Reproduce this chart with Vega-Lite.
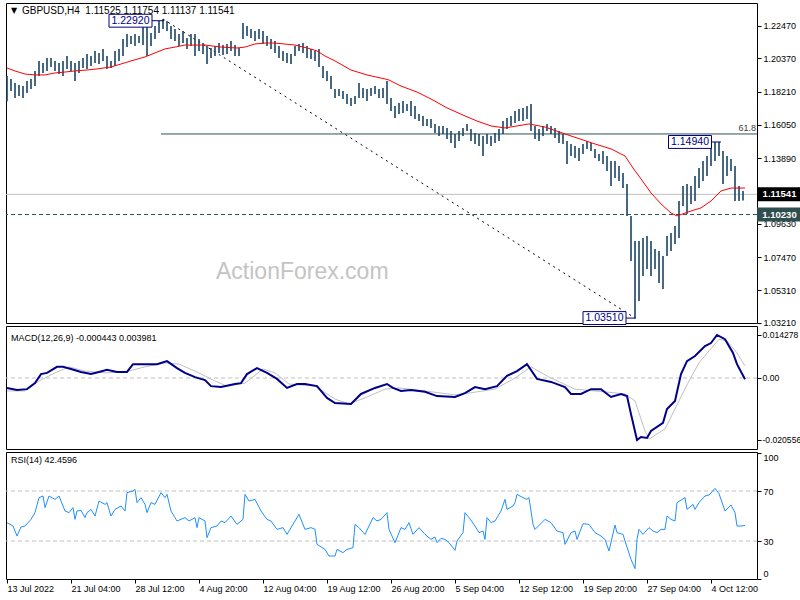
{
"$schema": "https://vega.github.io/schema/vega-lite/v6.json",
"padding": {"left": 2, "top": 2, "right": 0, "bottom": 0},
"background": "white",
"bounds": "flush",
"spacing": 3,
"config": {
  "view": {"stroke": "black", "strokeWidth": 1},
  "axis": {"labelFont": "Liberation Sans", "labelFontSize": 9, "labelColor": "black", "tickColor": "black", "domain": false, "grid": false, "tickSize": 4, "labelPadding": 2, "labelOverlap": false},
  "text": {"font": "Liberation Sans"}
},
"datasets": {
"bars": [
{"i":0,"h":1.1922,"l":1.1759},{"i":2,"h":1.1902,"l":1.1825},{"i":4,"h":1.1877,"l":1.1780},{"i":6,"h":1.1864,"l":1.1792},{"i":8,"h":1.1857,"l":1.1780},{"i":10,"h":1.1890,"l":1.1812},{"i":12,"h":1.1903,"l":1.1838},{"i":14,"h":1.1955,"l":1.1857},{"i":16,"h":1.2020,"l":1.1922},{"i":18,"h":1.2007,"l":1.1942},{"i":20,"h":1.2039,"l":1.1955},{"i":22,"h":1.2039,"l":1.1981},{"i":24,"h":1.2020,"l":1.1955},{"i":26,"h":1.2007,"l":1.1935},{"i":28,"h":1.2020,"l":1.1922},{"i":30,"h":1.2052,"l":1.1968},{"i":32,"h":1.2020,"l":1.1955},{"i":34,"h":1.2007,"l":1.1890},{"i":36,"h":1.2020,"l":1.1942},{"i":38,"h":1.2039,"l":1.1974},{"i":40,"h":1.2065,"l":1.1968},{"i":42,"h":1.2052,"l":1.1987},{"i":44,"h":1.2085,"l":1.2007},{"i":46,"h":1.2072,"l":1.2000},{"i":48,"h":1.2098,"l":1.2020},{"i":50,"h":1.2052,"l":1.1968},{"i":52,"h":1.2020,"l":1.1974},{"i":54,"h":1.2085,"l":1.1987},{"i":56,"h":1.2098,"l":1.2020},{"i":58,"h":1.2162,"l":1.2052},{"i":60,"h":1.2195,"l":1.2110},{"i":62,"h":1.2182,"l":1.2130},{"i":64,"h":1.2195,"l":1.2117},{"i":66,"h":1.2182,"l":1.2136},{"i":68,"h":1.2247,"l":1.2123},{"i":70,"h":1.2247,"l":1.2052},{"i":72,"h":1.2201,"l":1.2117},{"i":74,"h":1.2247,"l":1.2162},{"i":76,"h":1.2279,"l":1.2201},{"i":78,"h":1.2292,"l":1.2227},{"i":80,"h":1.2279,"l":1.2214},{"i":82,"h":1.2247,"l":1.2162},{"i":84,"h":1.2227,"l":1.2149},{"i":86,"h":1.2195,"l":1.2117},{"i":88,"h":1.2214,"l":1.2136},{"i":90,"h":1.2169,"l":1.2098},{"i":92,"h":1.2195,"l":1.2117},{"i":94,"h":1.2195,"l":1.2052},{"i":96,"h":1.2162,"l":1.2085},{"i":98,"h":1.2136,"l":1.2065},{"i":100,"h":1.2117,"l":1.2000},{"i":102,"h":1.2104,"l":1.2039},{"i":104,"h":1.2117,"l":1.2052},{"i":106,"h":1.2136,"l":1.2072},{"i":108,"h":1.2123,"l":1.2059},{"i":110,"h":1.2130,"l":1.2065},{"i":112,"h":1.2149,"l":1.2085},{"i":114,"h":1.2123,"l":1.2052},{"i":116,"h":1.2104,"l":1.2052},{"i":118,"h":1.2266,"l":1.2162},{"i":120,"h":1.2247,"l":1.2182},{"i":122,"h":1.2227,"l":1.2169},{"i":124,"h":1.2214,"l":1.2149},{"i":126,"h":1.2227,"l":1.2162},{"i":128,"h":1.2214,"l":1.2130},{"i":130,"h":1.2182,"l":1.2117},{"i":132,"h":1.2162,"l":1.2098},{"i":134,"h":1.2149,"l":1.2072},{"i":136,"h":1.2117,"l":1.2039},{"i":138,"h":1.2085,"l":1.2020},{"i":140,"h":1.2072,"l":1.2007},{"i":142,"h":1.2065,"l":1.2000},{"i":144,"h":1.2117,"l":1.2052},{"i":146,"h":1.2130,"l":1.2085},{"i":148,"h":1.2136,"l":1.2072},{"i":150,"h":1.2117,"l":1.2039},{"i":152,"h":1.2098,"l":1.2033},{"i":154,"h":1.2085,"l":1.2020},{"i":156,"h":1.2098,"l":1.1981},{"i":158,"h":1.1987,"l":1.1909},{"i":160,"h":1.1955,"l":1.1890},{"i":162,"h":1.1922,"l":1.1838},{"i":164,"h":1.1838,"l":1.1780},{"i":166,"h":1.1838,"l":1.1792},{"i":168,"h":1.1825,"l":1.1773},{"i":170,"h":1.1805,"l":1.1741},{"i":172,"h":1.1779,"l":1.1728},{"i":174,"h":1.1792,"l":1.1741},{"i":176,"h":1.1877,"l":1.1780},{"i":178,"h":1.1844,"l":1.1780},{"i":180,"h":1.1838,"l":1.1760},{"i":182,"h":1.1844,"l":1.1792},{"i":184,"h":1.1857,"l":1.1805},{"i":186,"h":1.1838,"l":1.1780},{"i":188,"h":1.1844,"l":1.1780},{"i":190,"h":1.1890,"l":1.1741},{"i":192,"h":1.1779,"l":1.1695},{"i":194,"h":1.1728,"l":1.1650},{"i":196,"h":1.1747,"l":1.1676},{"i":198,"h":1.1760,"l":1.1682},{"i":200,"h":1.1741,"l":1.1695},{"i":202,"h":1.1760,"l":1.1663},{"i":204,"h":1.1728,"l":1.1643},{"i":206,"h":1.1676,"l":1.1630},{"i":208,"h":1.1663,"l":1.1598},{"i":210,"h":1.1643,"l":1.1598},{"i":212,"h":1.1643,"l":1.1585},{"i":214,"h":1.1611,"l":1.1552},{"i":216,"h":1.1598,"l":1.1533},{"i":218,"h":1.1598,"l":1.1546},{"i":220,"h":1.1585,"l":1.1513},{"i":222,"h":1.1565,"l":1.1487},{"i":224,"h":1.1546,"l":1.1455},{"i":226,"h":1.1565,"l":1.1500},{"i":228,"h":1.1585,"l":1.1533},{"i":230,"h":1.1611,"l":1.1565},{"i":232,"h":1.1578,"l":1.1500},{"i":234,"h":1.1552,"l":1.1481},{"i":236,"h":1.1546,"l":1.1468},{"i":238,"h":1.1533,"l":1.1403},{"i":240,"h":1.1546,"l":1.1481},{"i":242,"h":1.1533,"l":1.1468},{"i":244,"h":1.1552,"l":1.1487},{"i":246,"h":1.1578,"l":1.1500},{"i":248,"h":1.1630,"l":1.1546},{"i":250,"h":1.1650,"l":1.1578},{"i":252,"h":1.1663,"l":1.1598},{"i":254,"h":1.1695,"l":1.1617},{"i":256,"h":1.1708,"l":1.1630},{"i":258,"h":1.1715,"l":1.1630},{"i":260,"h":1.1728,"l":1.1643},{"i":262,"h":1.1741,"l":1.1565},{"i":264,"h":1.1598,"l":1.1513},{"i":266,"h":1.1578,"l":1.1500},{"i":268,"h":1.1598,"l":1.1533},{"i":270,"h":1.1611,"l":1.1565},{"i":272,"h":1.1598,"l":1.1546},{"i":274,"h":1.1585,"l":1.1520},{"i":276,"h":1.1565,"l":1.1487},{"i":278,"h":1.1546,"l":1.1481},{"i":280,"h":1.1500,"l":1.1351},{"i":282,"h":1.1481,"l":1.1403},{"i":284,"h":1.1468,"l":1.1390},{"i":286,"h":1.1455,"l":1.1371},{"i":288,"h":1.1481,"l":1.1416},{"i":290,"h":1.1500,"l":1.1449},{"i":292,"h":1.1487,"l":1.1436},{"i":294,"h":1.1449,"l":1.1390},{"i":296,"h":1.1416,"l":1.1371},{"i":298,"h":1.1436,"l":1.1351},{"i":300,"h":1.1403,"l":1.1306},{"i":302,"h":1.1371,"l":1.1208},{"i":304,"h":1.1371,"l":1.1260},{"i":306,"h":1.1338,"l":1.1241},{"i":308,"h":1.1293,"l":1.1195},{"i":310,"h":1.1221,"l":1.1014},{"i":312,"h":1.1014,"l":1.0722},{"i":314,"h":1.0851,"l":1.0352},{"i":316,"h":1.0851,"l":1.0462},{"i":318,"h":1.0871,"l":1.0624},{"i":320,"h":1.0884,"l":1.0670},{"i":322,"h":1.0851,"l":1.0624},{"i":324,"h":1.0800,"l":1.0670},{"i":326,"h":1.0787,"l":1.0579},{"i":328,"h":1.0754,"l":1.0540},{"i":330,"h":1.0884,"l":1.0754},{"i":332,"h":1.0903,"l":1.0787},{"i":334,"h":1.0949,"l":1.0832},{"i":336,"h":1.1111,"l":1.0871},{"i":338,"h":1.1208,"l":1.1079},{"i":340,"h":1.1221,"l":1.1027},{"i":342,"h":1.1208,"l":1.1092},{"i":344,"h":1.1273,"l":1.1111},{"i":346,"h":1.1325,"l":1.1195},{"i":348,"h":1.1371,"l":1.1241},{"i":350,"h":1.1403,"l":1.1273},{"i":352,"h":1.1481,"l":1.1338},{"i":354,"h":1.1494,"l":1.1371},{"i":356,"h":1.1494,"l":1.1403},{"i":358,"h":1.1436,"l":1.1221},{"i":360,"h":1.1403,"l":1.1273},{"i":362,"h":1.1384,"l":1.1306},{"i":364,"h":1.1338,"l":1.1111},{"i":366,"h":1.1208,"l":1.1111},{"i":368,"h":1.1175,"l":1.1114}
],
"ma": [
{"i":0,"p":1.1974},{"i":4,"p":1.1955},{"i":9,"p":1.1935},{"i":14,"p":1.1929},{"i":19,"p":1.1929},{"i":24,"p":1.1942},{"i":29,"p":1.1948},{"i":34,"p":1.1955},{"i":40,"p":1.1961},{"i":45,"p":1.1968},{"i":52,"p":1.1981},{"i":57,"p":1.2000},{"i":62,"p":1.2020},{"i":69,"p":1.2046},{"i":74,"p":1.2072},{"i":79,"p":1.2098},{"i":84,"p":1.2110},{"i":89,"p":1.2123},{"i":99,"p":1.2123},{"i":107,"p":1.2110},{"i":115,"p":1.2104},{"i":119,"p":1.2110},{"i":124,"p":1.2130},{"i":129,"p":1.2136},{"i":134,"p":1.2136},{"i":144,"p":1.2123},{"i":150,"p":1.2104},{"i":155,"p":1.2085},{"i":159,"p":1.2052},{"i":164,"p":1.2020},{"i":172,"p":1.1961},{"i":180,"p":1.1929},{"i":189,"p":1.1903},{"i":191,"p":1.1896},{"i":197,"p":1.1857},{"i":205,"p":1.1818},{"i":212,"p":1.1773},{"i":220,"p":1.1715},{"i":229,"p":1.1663},{"i":235,"p":1.1630},{"i":242,"p":1.1598},{"i":249,"p":1.1585},{"i":255,"p":1.1598},{"i":261,"p":1.1611},{"i":269,"p":1.1591},{"i":279,"p":1.1546},{"i":294,"p":1.1481},{"i":302,"p":1.1449},{"i":309,"p":1.1403},{"i":313,"p":1.1325},{"i":317,"p":1.1254},{"i":322,"p":1.1163},{"i":327,"p":1.1092},{"i":332,"p":1.1033},{"i":335,"p":1.1014},{"i":342,"p":1.1046},{"i":347,"p":1.1066},{"i":352,"p":1.1111},{"i":357,"p":1.1176},{"i":362,"p":1.1195},{"i":369,"p":1.1195}
],
"macd": [
{"i":0,"v":-0.0033},{"i":5,"v":-0.0040},{"i":10,"v":-0.0037},{"i":14,"v":-0.0017},{"i":17,"v":0.0013},{"i":20,"v":0.0017},{"i":25,"v":0.0037},{"i":28,"v":0.0037},{"i":32,"v":0.0030},{"i":37,"v":0.0020},{"i":42,"v":0.0013},{"i":46,"v":0.0020},{"i":50,"v":0.0027},{"i":55,"v":0.0020},{"i":60,"v":0.0020},{"i":63,"v":0.0046},{"i":69,"v":0.0046},{"i":75,"v":0.0046},{"i":80,"v":0.0056},{"i":85,"v":0.0033},{"i":89,"v":0.0017},{"i":94,"v":0.0003},{"i":99,"v":-0.0007},{"i":102,"v":-0.0027},{"i":107,"v":-0.0030},{"i":114,"v":-0.0020},{"i":117,"v":-0.0017},{"i":120,"v":0.0013},{"i":125,"v":0.0033},{"i":130,"v":0.0017},{"i":135,"v":-0.0003},{"i":140,"v":-0.0033},{"i":145,"v":-0.0020},{"i":149,"v":-0.0020},{"i":155,"v":-0.0027},{"i":160,"v":-0.0066},{"i":164,"v":-0.0083},{"i":172,"v":-0.0086},{"i":177,"v":-0.0053},{"i":184,"v":-0.0033},{"i":190,"v":-0.0020},{"i":193,"v":-0.0033},{"i":197,"v":-0.0043},{"i":202,"v":-0.0040},{"i":209,"v":-0.0046},{"i":215,"v":-0.0060},{"i":224,"v":-0.0063},{"i":229,"v":-0.0050},{"i":234,"v":-0.0030},{"i":239,"v":-0.0037},{"i":245,"v":-0.0027},{"i":250,"v":0.0007},{"i":255,"v":0.0023},{"i":260,"v":0.0046},{"i":265,"v":-0.0003},{"i":272,"v":-0.0013},{"i":279,"v":-0.0030},{"i":282,"v":-0.0053},{"i":287,"v":-0.0053},{"i":292,"v":-0.0037},{"i":297,"v":-0.0037},{"i":302,"v":-0.0063},{"i":307,"v":-0.0053},{"i":310,"v":-0.0060},{"i":312,"v":-0.0120},{"i":315,"v":-0.0206},{"i":317,"v":-0.0196},{"i":320,"v":-0.0199},{"i":322,"v":-0.0176},{"i":328,"v":-0.0149},{"i":330,"v":-0.0103},{"i":334,"v":-0.0076},{"i":337,"v":0.0013},{"i":340,"v":0.0056},{"i":344,"v":0.0073},{"i":349,"v":0.0106},{"i":352,"v":0.0116},{"i":355,"v":0.0143},{"i":359,"v":0.0129},{"i":363,"v":0.0083},{"i":365,"v":0.0046},{"i":369,"v":-0.0004}
],
"signal": [
{"i":0,"v":-0.0043},{"i":9,"v":-0.0043},{"i":16,"v":-0.0010},{"i":24,"v":0.0017},{"i":31,"v":0.0037},{"i":39,"v":0.0023},{"i":49,"v":0.0017},{"i":59,"v":0.0020},{"i":69,"v":0.0037},{"i":79,"v":0.0050},{"i":86,"v":0.0046},{"i":94,"v":0.0023},{"i":104,"v":-0.0010},{"i":110,"v":-0.0027},{"i":119,"v":-0.0017},{"i":128,"v":0.0030},{"i":134,"v":0.0017},{"i":141,"v":-0.0020},{"i":154,"v":-0.0027},{"i":164,"v":-0.0070},{"i":171,"v":-0.0086},{"i":179,"v":-0.0066},{"i":189,"v":-0.0037},{"i":196,"v":-0.0033},{"i":209,"v":-0.0043},{"i":224,"v":-0.0056},{"i":231,"v":-0.0050},{"i":244,"v":-0.0037},{"i":254,"v":0.0000},{"i":262,"v":0.0037},{"i":271,"v":0.0003},{"i":284,"v":-0.0037},{"i":299,"v":-0.0046},{"i":309,"v":-0.0053},{"i":314,"v":-0.0076},{"i":319,"v":-0.0176},{"i":321,"v":-0.0203},{"i":329,"v":-0.0169},{"i":336,"v":-0.0076},{"i":341,"v":-0.0010},{"i":346,"v":0.0050},{"i":351,"v":0.0090},{"i":356,"v":0.0129},{"i":360,"v":0.0123},{"i":365,"v":0.0083},{"i":369,"v":0.0040}
],
"rsi": [
{"i":0,"v":44.7},{"i":3,"v":42},{"i":5,"v":34},{"i":7,"v":41.2},{"i":9,"v":42},{"i":12,"v":47.3},{"i":14,"v":52.7},{"i":16,"v":64.7},{"i":18,"v":66},{"i":19,"v":56.7},{"i":21,"v":66},{"i":24,"v":63.3},{"i":26,"v":66},{"i":29,"v":54},{"i":31,"v":52.7},{"i":33,"v":56.7},{"i":34,"v":47.3},{"i":35,"v":54},{"i":37,"v":54.5},{"i":39,"v":48.7},{"i":40,"v":52.7},{"i":42,"v":55.3},{"i":44,"v":50},{"i":46,"v":62},{"i":49,"v":59.3},{"i":50,"v":60.7},{"i":52,"v":50},{"i":54,"v":55.3},{"i":57,"v":58},{"i":59,"v":54},{"i":60,"v":68.7},{"i":63,"v":70},{"i":64,"v":71.3},{"i":65,"v":60.7},{"i":67,"v":64.7},{"i":69,"v":59.3},{"i":70,"v":52.7},{"i":72,"v":60.7},{"i":74,"v":59.3},{"i":77,"v":68.7},{"i":79,"v":64.7},{"i":80,"v":67.3},{"i":82,"v":54},{"i":84,"v":48.7},{"i":85,"v":46},{"i":89,"v":48.7},{"i":91,"v":46},{"i":94,"v":48.7},{"i":95,"v":40.7},{"i":96,"v":48.7},{"i":99,"v":46},{"i":100,"v":32.7},{"i":102,"v":40.7},{"i":105,"v":42},{"i":107,"v":46},{"i":109,"v":44.7},{"i":112,"v":50},{"i":115,"v":43.3},{"i":118,"v":47.3},{"i":119,"v":67.3},{"i":121,"v":62},{"i":124,"v":63.3},{"i":127,"v":54},{"i":130,"v":47.3},{"i":132,"v":46},{"i":135,"v":39.3},{"i":138,"v":40.7},{"i":140,"v":35.3},{"i":144,"v":46},{"i":146,"v":51.3},{"i":149,"v":39.3},{"i":152,"v":40.7},{"i":154,"v":39.3},{"i":155,"v":27.3},{"i":159,"v":23.3},{"i":161,"v":18},{"i":164,"v":18},{"i":165,"v":23.3},{"i":168,"v":20.7},{"i":170,"v":23.3},{"i":173,"v":24.7},{"i":174,"v":43.3},{"i":176,"v":40.7},{"i":179,"v":35.3},{"i":183,"v":48.7},{"i":185,"v":46},{"i":187,"v":47.3},{"i":190,"v":52.7},{"i":191,"v":39.3},{"i":194,"v":28.7},{"i":197,"v":40.7},{"i":199,"v":39.3},{"i":201,"v":44.7},{"i":203,"v":35.3},{"i":206,"v":40.7},{"i":209,"v":35.3},{"i":212,"v":31.3},{"i":214,"v":33.2},{"i":215,"v":28.7},{"i":217,"v":32.1},{"i":219,"v":31.3},{"i":221,"v":28.7},{"i":224,"v":22.5},{"i":225,"v":30},{"i":228,"v":36.7},{"i":229,"v":52.7},{"i":231,"v":48.7},{"i":234,"v":42},{"i":236,"v":36.7},{"i":238,"v":38},{"i":239,"v":31.3},{"i":240,"v":48.7},{"i":242,"v":44.7},{"i":244,"v":46},{"i":247,"v":54},{"i":249,"v":63.3},{"i":250,"v":55.3},{"i":253,"v":58},{"i":254,"v":60.7},{"i":255,"v":67.3},{"i":258,"v":64.7},{"i":260,"v":63.3},{"i":261,"v":64.7},{"i":263,"v":43.3},{"i":264,"v":39.3},{"i":269,"v":47.3},{"i":272,"v":44.7},{"i":275,"v":38},{"i":278,"v":36.7},{"i":279,"v":27.3},{"i":282,"v":36.7},{"i":284,"v":38},{"i":285,"v":31.3},{"i":288,"v":43.9},{"i":291,"v":43.3},{"i":294,"v":36.7},{"i":297,"v":34},{"i":299,"v":31.3},{"i":301,"v":22},{"i":304,"v":42.8},{"i":305,"v":36.7},{"i":308,"v":35.3},{"i":309,"v":30},{"i":312,"v":15.3},{"i":314,"v":7.9},{"i":315,"v":31.3},{"i":316,"v":39.3},{"i":318,"v":35.3},{"i":321,"v":40.7},{"i":323,"v":38},{"i":325,"v":36.7},{"i":327,"v":39.3},{"i":329,"v":39.3},{"i":330,"v":50},{"i":332,"v":47.3},{"i":334,"v":46},{"i":335,"v":60.7},{"i":339,"v":64.7},{"i":340,"v":55.3},{"i":343,"v":59.3},{"i":344,"v":55.3},{"i":346,"v":60.7},{"i":349,"v":66},{"i":351,"v":66.8},{"i":354,"v":72.1},{"i":356,"v":67.9},{"i":359,"v":54},{"i":362,"v":58.8},{"i":364,"v":52.7},{"i":365,"v":42},{"i":367,"v":42},{"i":369,"v":42.5}
],
"marks": [
{"label":"1.22920","b":61.75,"t":78.5,"p":1.2281},
{"label":"1.03510","b":298.75,"t":314.5,"p":1.0351},
{"label":"1.14940","b":341.5,"t":357,"p":1.1494}
],
"tags": [
{"label":"1.11541","p":1.11541,"c":"#000000"},
{"label":"1.10230","p":1.1023,"c":"#2F4F4F"}
]
},
"vconcat": [
{
 "width": 751, "height": 320,
 "layer": [
  {"data": {"values": [{}]}, "mark": {"type": "text", "text": "ActionForex.com", "fontSize": 23, "color": "#C4C4C4", "align": "left", "baseline": "alphabetic"},
   "encoding": {"x": {"datum": 104.5, "type": "quantitative", "scale": {"domain": [-0.5, 375], "nice": false, "zero": false}, "axis": null},
                "y": {"datum": 1.0605, "type": "quantitative", "scale": {"domain": [1.0319, 1.2396], "nice": false, "zero": false}, "axis": {"orient": "right", "title": null, "values": [1.2247, 1.2037, 1.1821, 1.1605, 1.1389, 1.1173, 1.0963, 1.0747, 1.0531, 1.0321], "format": ".5f"}}}},
  {"data": {"values": [{"p": 1.11541}]}, "mark": {"type": "rule", "color": "#C0C0C0", "strokeWidth": 1},
   "encoding": {"y": {"field": "p", "type": "quantitative", "scale": {"domain": [1.0319, 1.2396], "nice": false, "zero": false}, "axis": {"orient": "right", "title": null, "values": [1.2247, 1.2037, 1.1821, 1.1605, 1.1389, 1.1173, 1.0963, 1.0747, 1.0531, 1.0321], "format": ".5f"}}}},
  {"data": {"values": [{"p": 1.1023}]}, "mark": {"type": "rule", "color": "#2F4F4F", "strokeWidth": 1, "strokeDash": [4, 3]},
   "encoding": {"y": {"field": "p", "type": "quantitative", "scale": {"domain": [1.0319, 1.2396], "nice": false, "zero": false}, "axis": {"orient": "right", "title": null, "values": [1.2247, 1.2037, 1.1821, 1.1605, 1.1389, 1.1173, 1.0963, 1.0747, 1.0531, 1.0321], "format": ".5f"}}}},
  {"data": {"values": [{"p": 1.1546}]}, "mark": {"type": "rule", "color": "#2F4F4F", "strokeWidth": 1},
   "encoding": {"x": {"datum": 77, "type": "quantitative", "scale": {"domain": [-0.5, 375], "nice": false, "zero": false}, "axis": null},
                "x2": {"datum": 375},
                "y": {"field": "p", "type": "quantitative", "scale": {"domain": [1.0319, 1.2396], "nice": false, "zero": false}, "axis": {"orient": "right", "title": null, "values": [1.2247, 1.2037, 1.1821, 1.1605, 1.1389, 1.1173, 1.0963, 1.0747, 1.0531, 1.0321], "format": ".5f"}}}},
  {"data": {"values": [{"i": 78, "p": 1.2292, "i2": 314, "p2": 1.0351}]}, "mark": {"type": "rule", "color": "black", "strokeWidth": 1, "strokeDash": [2, 4]},
   "encoding": {"x": {"field": "i", "type": "quantitative", "scale": {"domain": [-0.5, 375], "nice": false, "zero": false}, "axis": null},
                "x2": {"field": "i2"},
                "y": {"field": "p", "type": "quantitative", "scale": {"domain": [1.0319, 1.2396], "nice": false, "zero": false}, "axis": {"orient": "right", "title": null, "values": [1.2247, 1.2037, 1.1821, 1.1605, 1.1389, 1.1173, 1.0963, 1.0747, 1.0531, 1.0321], "format": ".5f"}},
                "y2": {"field": "p2"}}},
  {"data": {"name": "bars"}, "mark": {"type": "rule", "color": "#184563", "strokeWidth": 1.6},
   "encoding": {"x": {"field": "i", "type": "quantitative", "scale": {"domain": [-0.5, 375], "nice": false, "zero": false}, "axis": null},
                "y": {"field": "h", "type": "quantitative", "scale": {"domain": [1.0319, 1.2396], "nice": false, "zero": false}, "axis": {"orient": "right", "title": null, "values": [1.2247, 1.2037, 1.1821, 1.1605, 1.1389, 1.1173, 1.0963, 1.0747, 1.0531, 1.0321], "format": ".5f"}},
                "y2": {"field": "l"}}},
  {"data": {"name": "ma"}, "mark": {"type": "line", "color": "#FF0000", "strokeWidth": 1},
   "encoding": {"x": {"field": "i", "type": "quantitative", "scale": {"domain": [-0.5, 375], "nice": false, "zero": false}, "axis": null},
                "y": {"field": "p", "type": "quantitative", "scale": {"domain": [1.0319, 1.2396], "nice": false, "zero": false}, "axis": {"orient": "right", "title": null, "values": [1.2247, 1.2037, 1.1821, 1.1605, 1.1389, 1.1173, 1.0963, 1.0747, 1.0531, 1.0321], "format": ".5f"}}}},
  {"data": {"name": "marks"}, "mark": {"type": "rule", "color": "#000080", "strokeWidth": 1},
   "encoding": {"x": {"field": "b", "type": "quantitative", "scale": {"domain": [-0.5, 375], "nice": false, "zero": false}, "axis": null},
                "x2": {"field": "t"},
                "y": {"field": "p", "type": "quantitative", "scale": {"domain": [1.0319, 1.2396], "nice": false, "zero": false}, "axis": {"orient": "right", "title": null, "values": [1.2247, 1.2037, 1.1821, 1.1605, 1.1389, 1.1173, 1.0963, 1.0747, 1.0531, 1.0321], "format": ".5f"}}}},
  {"data": {"name": "marks"}, "mark": {"type": "point", "shape": "M-1,-0.3L1,-0.3L1,0.3L-1,0.3Z", "size": 1849, "filled": true, "fill": "white", "stroke": "#000080", "strokeWidth": 1, "opacity": 1},
   "encoding": {"x": {"field": "b", "type": "quantitative", "scale": {"domain": [-0.5, 375], "nice": false, "zero": false}, "axis": null},
                "y": {"field": "p", "type": "quantitative", "scale": {"domain": [1.0319, 1.2396], "nice": false, "zero": false}, "axis": {"orient": "right", "title": null, "values": [1.2247, 1.2037, 1.1821, 1.1605, 1.1389, 1.1173, 1.0963, 1.0747, 1.0531, 1.0321], "format": ".5f"}}}},
  {"data": {"name": "marks"}, "mark": {"type": "text", "color": "#000080", "fontSize": 10.5, "align": "center", "baseline": "middle"},
   "encoding": {"x": {"field": "b", "type": "quantitative", "scale": {"domain": [-0.5, 375], "nice": false, "zero": false}, "axis": null},
                "y": {"field": "p", "type": "quantitative", "scale": {"domain": [1.0319, 1.2396], "nice": false, "zero": false}, "axis": {"orient": "right", "title": null, "values": [1.2247, 1.2037, 1.1821, 1.1605, 1.1389, 1.1173, 1.0963, 1.0747, 1.0531, 1.0321], "format": ".5f"}},
                "text": {"field": "label"}}},
  {"data": {"name": "tags"}, "mark": {"type": "point", "shape": "M-1,-0.31L1,-0.31L1,0.31L-1,0.31Z", "size": 2025, "filled": true, "opacity": 1, "strokeWidth": 0},
   "encoding": {"x": {"datum": 386.25, "type": "quantitative", "scale": {"domain": [-0.5, 375], "nice": false, "zero": false}, "axis": null},
                "y": {"field": "p", "type": "quantitative", "scale": {"domain": [1.0319, 1.2396], "nice": false, "zero": false}, "axis": {"orient": "right", "title": null, "values": [1.2247, 1.2037, 1.1821, 1.1605, 1.1389, 1.1173, 1.0963, 1.0747, 1.0531, 1.0321], "format": ".5f"}},
                "color": {"field": "c", "type": "nominal", "scale": null}}},
  {"data": {"name": "tags"}, "mark": {"type": "text", "color": "white", "fontSize": 9.5, "fontWeight": "bold", "align": "center", "baseline": "middle"},
   "encoding": {"x": {"datum": 386.25, "type": "quantitative", "scale": {"domain": [-0.5, 375], "nice": false, "zero": false}, "axis": null},
                "y": {"field": "p", "type": "quantitative", "scale": {"domain": [1.0319, 1.2396], "nice": false, "zero": false}, "axis": {"orient": "right", "title": null, "values": [1.2247, 1.2037, 1.1821, 1.1605, 1.1389, 1.1173, 1.0963, 1.0747, 1.0531, 1.0321], "format": ".5f"}},
                "text": {"field": "label"}}},
  {"data": {"values": [{}]}, "mark": {"type": "text", "text": "61.8", "fontSize": 9, "color": "#404040", "align": "right", "baseline": "middle"},
   "encoding": {"x": {"datum": 374.5, "type": "quantitative", "scale": {"domain": [-0.5, 375], "nice": false, "zero": false}, "axis": null},
                "y": {"datum": 1.1585, "type": "quantitative", "scale": {"domain": [1.0319, 1.2396], "nice": false, "zero": false}, "axis": {"orient": "right", "title": null, "values": [1.2247, 1.2037, 1.1821, 1.1605, 1.1389, 1.1173, 1.0963, 1.0747, 1.0531, 1.0321], "format": ".5f"}}}},
  {"data": {"values": [{}]}, "mark": {"type": "text", "text": "▼", "fontSize": 8, "color": "black", "align": "center", "baseline": "middle", "font": "DejaVu Sans"},
   "encoding": {"x": {"datum": 3.5, "type": "quantitative", "scale": {"domain": [-0.5, 375], "nice": false, "zero": false}, "axis": null},
                "y": {"datum": 1.2344, "type": "quantitative", "scale": {"domain": [1.0319, 1.2396], "nice": false, "zero": false}, "axis": {"orient": "right", "title": null, "values": [1.2247, 1.2037, 1.1821, 1.1605, 1.1389, 1.1173, 1.0963, 1.0747, 1.0531, 1.0321], "format": ".5f"}}}},
  {"data": {"values": [{}]}, "mark": {"type": "text", "text": "GBPUSD,H4\u00a0 1.11525 1.11754 1.11137 1.11541", "fontSize": 10, "color": "black", "align": "left", "baseline": "middle"},
   "encoding": {"x": {"datum": 7.5, "type": "quantitative", "scale": {"domain": [-0.5, 375], "nice": false, "zero": false}, "axis": null},
                "y": {"datum": 1.2344, "type": "quantitative", "scale": {"domain": [1.0319, 1.2396], "nice": false, "zero": false}, "axis": {"orient": "right", "title": null, "values": [1.2247, 1.2037, 1.1821, 1.1605, 1.1389, 1.1173, 1.0963, 1.0747, 1.0531, 1.0321], "format": ".5f"}}}}
 ]
},
{
 "width": 751, "height": 123,
 "layer": [
  {"data": {"values": [{"v": 0}]}, "mark": {"type": "rule", "color": "#C0C0C0", "strokeWidth": 1, "strokeDash": [4, 3]},
   "encoding": {"y": {"field": "v", "type": "quantitative", "scale": {"domain": [-0.02357, 0.01726], "nice": false, "zero": false}, "axis": {"orient": "right", "title": null, "values": [0.014278, 0, -0.020556], "labelPadding": 1, "labelFontSize": 8.6, "labelExpr": "datum.value == 0 ? '0.00' : (datum.value > 0 ? '0.014278' : '-0.020556')"}}}},
  {"data": {"name": "signal"}, "mark": {"type": "line", "color": "#C0C0C0", "strokeWidth": 1},
   "encoding": {"x": {"field": "i", "type": "quantitative", "scale": {"domain": [-0.5, 375], "nice": false, "zero": false}, "axis": null},
                "y": {"field": "v", "type": "quantitative", "scale": {"domain": [-0.02357, 0.01726], "nice": false, "zero": false}, "axis": {"orient": "right", "title": null, "values": [0.014278, 0, -0.020556], "labelPadding": 1, "labelFontSize": 8.6, "labelExpr": "datum.value == 0 ? '0.00' : (datum.value > 0 ? '0.014278' : '-0.020556')"}}}},
  {"data": {"name": "macd"}, "mark": {"type": "line", "color": "#00008B", "strokeWidth": 2},
   "encoding": {"x": {"field": "i", "type": "quantitative", "scale": {"domain": [-0.5, 375], "nice": false, "zero": false}, "axis": null},
                "y": {"field": "v", "type": "quantitative", "scale": {"domain": [-0.02357, 0.01726], "nice": false, "zero": false}, "axis": {"orient": "right", "title": null, "values": [0.014278, 0, -0.020556], "labelPadding": 1, "labelFontSize": 8.6, "labelExpr": "datum.value == 0 ? '0.00' : (datum.value > 0 ? '0.014278' : '-0.020556')"}}}},
  {"data": {"values": [{}]}, "mark": {"type": "text", "text": "MACD(12,26,9) -0.000443 0.003981", "fontSize": 9, "color": "black", "align": "left", "baseline": "middle"},
   "encoding": {"x": {"datum": 2, "type": "quantitative", "scale": {"domain": [-0.5, 375], "nice": false, "zero": false}, "axis": null},
                "y": {"datum": 0.01338, "type": "quantitative", "scale": {"domain": [-0.02357, 0.01726], "nice": false, "zero": false}, "axis": {"orient": "right", "title": null, "values": [0.014278, 0, -0.020556], "labelPadding": 1, "labelFontSize": 8.6, "labelExpr": "datum.value == 0 ? '0.00' : (datum.value > 0 ? '0.014278' : '-0.020556')"}}}}
 ]
},
{
 "width": 751, "height": 127,
 "layer": [
  {"data": {"values": [{"v": 30}, {"v": 70}]}, "mark": {"type": "rule", "color": "#C0C0C0", "strokeWidth": 1, "strokeDash": [4, 3]},
   "encoding": {"y": {"field": "v", "type": "quantitative", "scale": {"domain": [-0.4, 101.2], "nice": false, "zero": false}, "axis": {"orient": "right", "title": null, "values": [0, 30, 70, 100], "labelFlush": 4}}}},
  {"data": {"name": "rsi"}, "mark": {"type": "line", "color": "#1E90FF", "strokeWidth": 1},
   "encoding": {"x": {"field": "i", "type": "quantitative", "scale": {"domain": [-0.5, 375], "nice": false, "zero": false},
                      "axis": {"orient": "bottom", "title": null, "values": [0, 32, 64, 96, 128, 160, 192, 224, 256, 288, 320, 352], "labelAlign": "left", "labelFlush": false, "labelBound": false, "labelPadding": 1, "labelExpr": "['13 Jul 2022','21 Jul 04:00','28 Jul 12:00','4 Aug 20:00','12 Aug 04:00','19 Aug 12:00','26 Aug 20:00','5 Sep 04:00','12 Sep 12:00','19 Sep 20:00','27 Sep 04:00','4 Oct 12:00'][round(datum.value/32)]"}},
                "y": {"field": "v", "type": "quantitative", "scale": {"domain": [-0.4, 101.2], "nice": false, "zero": false}, "axis": {"orient": "right", "title": null, "values": [0, 30, 70, 100], "labelFlush": 4}}}},
  {"data": {"values": [{}]}, "mark": {"type": "text", "text": "RSI(14) 42.4596", "fontSize": 9, "color": "black", "align": "left", "baseline": "middle"},
   "encoding": {"x": {"datum": 2, "type": "quantitative", "scale": {"domain": [-0.5, 375], "nice": false, "zero": false},
                      "axis": {"orient": "bottom", "title": null, "values": [0, 32, 64, 96, 128, 160, 192, 224, 256, 288, 320, 352], "labelAlign": "left", "labelFlush": false, "labelBound": false, "labelPadding": 1, "labelExpr": "['13 Jul 2022','21 Jul 04:00','28 Jul 12:00','4 Aug 20:00','12 Aug 04:00','19 Aug 12:00','26 Aug 20:00','5 Sep 04:00','12 Sep 12:00','19 Sep 20:00','27 Sep 04:00','4 Oct 12:00'][round(datum.value/32)]"}},
                "y": {"datum": 94.6, "type": "quantitative", "scale": {"domain": [-0.4, 101.2], "nice": false, "zero": false}, "axis": {"orient": "right", "title": null, "values": [0, 30, 70, 100], "labelFlush": 4}}}}
 ]
}
]
}
